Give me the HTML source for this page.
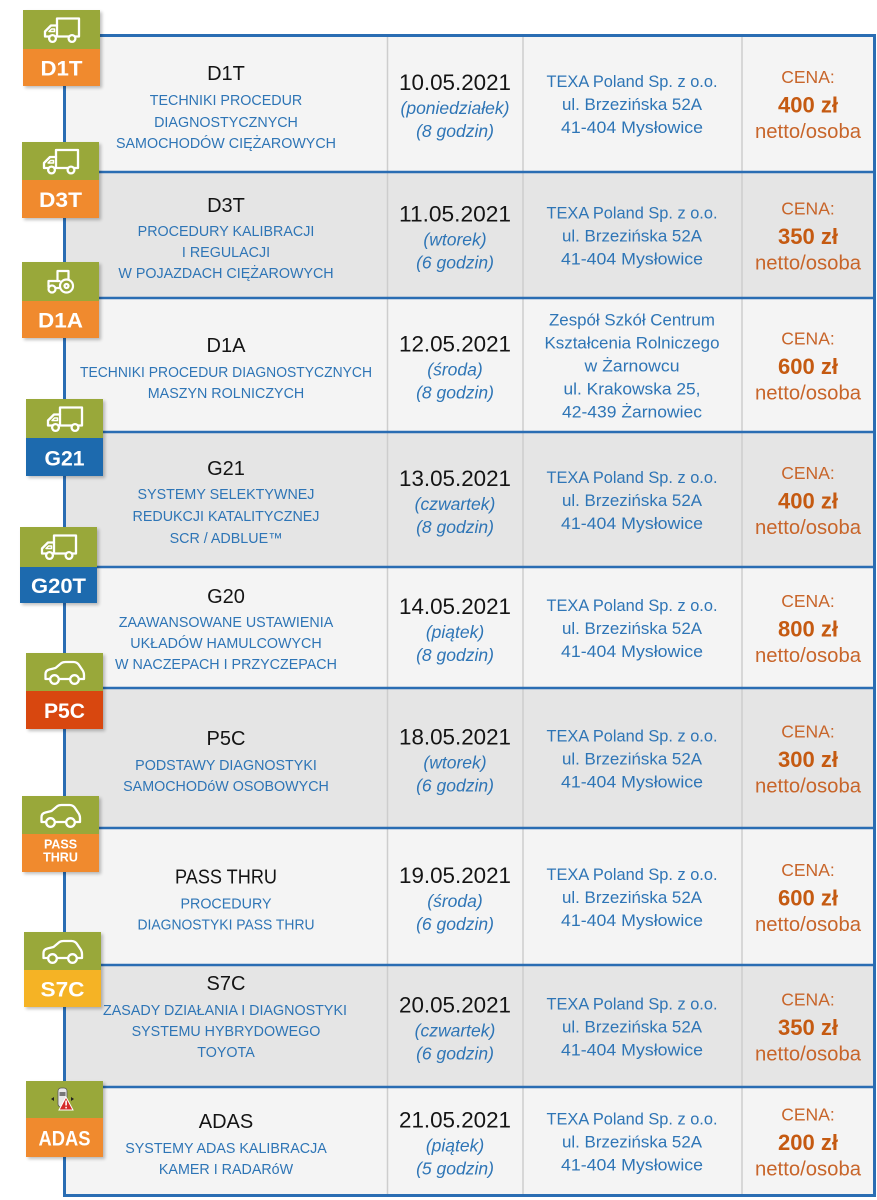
<!DOCTYPE html>
<html>
<head>
<meta charset="utf-8">
<style>
  html,body{margin:0;padding:0;background:#fff;}
  svg{display:block;}
  .t{font-family:"Liberation Sans",Arial,sans-serif;font-size:20px;fill:#141414;text-anchor:middle;}
  .s{font-family:"Liberation Sans",Arial,sans-serif;font-size:14.3px;fill:#2e75b6;text-anchor:middle;}
  .d{font-family:"Liberation Sans",Arial,sans-serif;font-size:22px;fill:#141414;text-anchor:middle;}
  .i{font-family:"Liberation Sans",Arial,sans-serif;font-size:17.5px;font-style:italic;fill:#2e75b6;text-anchor:middle;}
  .a{font-family:"Liberation Sans",Arial,sans-serif;font-size:17px;fill:#2e75b6;text-anchor:middle;}
  .c{font-family:"Liberation Sans",Arial,sans-serif;font-size:17.5px;fill:#c8652a;text-anchor:middle;}
  .p{font-family:"Liberation Sans",Arial,sans-serif;font-size:22px;font-weight:bold;fill:#c55a11;text-anchor:middle;}
  .n{font-family:"Liberation Sans",Arial,sans-serif;font-size:20px;fill:#c8652a;text-anchor:middle;}
  .b{font-family:"Liberation Sans",Arial,sans-serif;font-size:21.5px;font-weight:bold;fill:#fff;text-anchor:middle;}
  .bs{font-family:"Liberation Sans",Arial,sans-serif;font-size:12.5px;font-weight:bold;fill:#fff;text-anchor:middle;}
</style>
</head>
<body>
<svg width="877" height="1200" viewBox="0 0 877 1200" xmlns="http://www.w3.org/2000/svg">
<defs>
  <filter id="sh" x="-20%" y="-20%" width="140%" height="140%">
    <feGaussianBlur stdDeviation="1.5"/>
  </filter>
  <g id="truck" fill="none" stroke="#fff" stroke-width="2.3" stroke-linejoin="round" stroke-linecap="round">
    <path d="M-4.5 -11.5 H17.5 V6.5 H-4.5 Z"/>
    <path d="M-4.5 -4.5 H-10.5 L-16.5 1.5 V6.5 H-4.5"/>
    <path d="M-10 -1 L-12.5 1.5 H-7 V-1 Z" stroke-width="1.5"/>
    <circle cx="-9" cy="8.5" r="3.4" fill="#99a83a"/>
    <circle cx="10.5" cy="8.5" r="3.4" fill="#99a83a"/>
  </g>
  <g id="car" fill="none" stroke="#fff" stroke-width="2.3" stroke-linejoin="round" stroke-linecap="round">
    <path d="M-19 6 V1 Q-19 -2.5 -15 -3.5 L-9 -5 L-3 -10 Q-1.5 -11 1 -11 H9 Q12.5 -11 14.5 -8 L18.5 -2 Q19.5 0 19.5 2 V6 Z"/>
    <circle cx="-10" cy="6.5" r="4.3" fill="#99a83a"/>
    <circle cx="10" cy="6.5" r="4.3" fill="#99a83a"/>
  </g>
  <g id="tractor" fill="none" stroke="#fff" stroke-width="2.2" stroke-linejoin="round" stroke-linecap="round">
    <path d="M-3 -1 V-11 H8 V-3"/>
    <path d="M-12 5 V-1 H-1"/>
    <path d="M-4.5 6 H-1"/>
    <circle cx="6" cy="4" r="6.5" fill="#99a83a"/>
    <circle cx="6" cy="4" r="2"/>
    <circle cx="-8.5" cy="7" r="3.5" fill="#99a83a"/>
  </g>
</defs>

<rect x="0" y="0" width="877" height="1200" fill="#ffffff"/>

<!-- row backgrounds -->
<rect x="66" y="37" width="807" height="135" fill="#f4f4f4"/>
<rect x="66" y="172" width="807" height="126" fill="#e5e5e5"/>
<rect x="66" y="298" width="807" height="134" fill="#f4f4f4"/>
<rect x="66" y="432" width="807" height="135" fill="#e5e5e5"/>
<rect x="66" y="567" width="807" height="121" fill="#f4f4f4"/>
<rect x="66" y="688" width="807" height="140" fill="#e5e5e5"/>
<rect x="66" y="828" width="807" height="137" fill="#f4f4f4"/>
<rect x="66" y="965" width="807" height="122" fill="#e5e5e5"/>
<rect x="66" y="1087" width="807" height="107" fill="#f4f4f4"/>

<!-- column separators -->
<g stroke="#cdcdcd" stroke-width="1.5">
  <line x1="387.5" y1="37" x2="387.5" y2="1194"/>
  <line x1="523" y1="37" x2="523" y2="1194"/>
  <line x1="742" y1="37" x2="742" y2="1194"/>
</g>

<!-- row separators -->
<g stroke="#2a6db3" stroke-width="2.5">
  <line x1="64" y1="172" x2="875" y2="172"/>
  <line x1="64" y1="298" x2="875" y2="298"/>
  <line x1="64" y1="432" x2="875" y2="432"/>
  <line x1="64" y1="567" x2="875" y2="567"/>
  <line x1="64" y1="688" x2="875" y2="688"/>
  <line x1="64" y1="828" x2="875" y2="828"/>
  <line x1="64" y1="965" x2="875" y2="965"/>
  <line x1="64" y1="1087" x2="875" y2="1087"/>
</g>

<!-- outer border -->
<rect x="64.5" y="35.5" width="810" height="1160" fill="none" stroke="#2a6db3" stroke-width="3"/>

<!-- badges -->
<!-- D1T -->
<rect x="25" y="12" width="77" height="76" fill="#000" opacity="0.25" filter="url(#sh)"/>
<rect x="23" y="10" width="77" height="39" fill="#99a83a"/>
<rect x="23" y="49" width="77" height="37" fill="#f08a2e"/>
<use href="#truck" x="61.5" y="30"/>
<text class="b" x="61.5" y="75.5" textLength="42" lengthAdjust="spacingAndGlyphs">D1T</text>

<!-- D3T -->
<rect x="24" y="144" width="77" height="76" fill="#000" opacity="0.25" filter="url(#sh)"/>
<rect x="22" y="142" width="77" height="38" fill="#99a83a"/>
<rect x="22" y="180" width="77" height="38" fill="#f08a2e"/>
<use href="#truck" x="60.5" y="161.5"/>
<text class="b" x="60.5" y="207" textLength="43" lengthAdjust="spacingAndGlyphs">D3T</text>

<!-- D1A -->
<rect x="24" y="264" width="77" height="76" fill="#000" opacity="0.25" filter="url(#sh)"/>
<rect x="22" y="262" width="77" height="39" fill="#99a83a"/>
<rect x="22" y="301" width="77" height="37" fill="#f08a2e"/>
<use href="#tractor" x="60.5" y="282"/>
<text class="b" x="60.5" y="327.5" textLength="45" lengthAdjust="spacingAndGlyphs">D1A</text>

<!-- G21 -->
<rect x="28" y="401" width="77" height="77" fill="#000" opacity="0.25" filter="url(#sh)"/>
<rect x="26" y="399" width="77" height="39" fill="#99a83a"/>
<rect x="26" y="438" width="77" height="38" fill="#1d6aae"/>
<use href="#truck" x="64.5" y="419"/>
<text class="b" x="64.5" y="465.5" textLength="40" lengthAdjust="spacingAndGlyphs">G21</text>

<!-- G20T -->
<rect x="22" y="529" width="77" height="76" fill="#000" opacity="0.25" filter="url(#sh)"/>
<rect x="20" y="527" width="77" height="40" fill="#99a83a"/>
<rect x="20" y="567" width="77" height="36" fill="#1d6aae"/>
<use href="#truck" x="58.5" y="547"/>
<text class="b" x="58.5" y="593" textLength="55" lengthAdjust="spacingAndGlyphs">G20T</text>

<!-- P5C -->
<rect x="28" y="655" width="77" height="76" fill="#000" opacity="0.25" filter="url(#sh)"/>
<rect x="26" y="653" width="77" height="38" fill="#99a83a"/>
<rect x="26" y="691" width="77" height="38" fill="#d8470f"/>
<use href="#car" x="64.5" y="673"/>
<text class="b" x="64.5" y="718" textLength="41" lengthAdjust="spacingAndGlyphs">P5C</text>

<!-- PASS THRU -->
<rect x="24" y="798" width="77" height="76" fill="#000" opacity="0.25" filter="url(#sh)"/>
<rect x="22" y="796" width="77" height="38" fill="#99a83a"/>
<rect x="22" y="834" width="77" height="38" fill="#f08a2e"/>
<use href="#car" x="60.5" y="816"/>
<text class="bs" x="60.5" y="848.5">PASS</text>
<text class="bs" x="60.5" y="861.5">THRU</text>

<!-- S7C -->
<rect x="26" y="934" width="77" height="75" fill="#000" opacity="0.25" filter="url(#sh)"/>
<rect x="24" y="932" width="77" height="38" fill="#99a83a"/>
<rect x="24" y="970" width="77" height="37" fill="#f5b325"/>
<use href="#car" x="62.5" y="952"/>
<text class="b" x="62.5" y="996.5" textLength="44" lengthAdjust="spacingAndGlyphs">S7C</text>

<!-- ADAS -->
<rect x="28" y="1083" width="77" height="76" fill="#000" opacity="0.25" filter="url(#sh)"/>
<rect x="26" y="1081" width="77" height="37" fill="#99a83a"/>
<rect x="26" y="1118" width="77" height="39" fill="#f08a2e"/>
<g transform="translate(63,1100)">
  <rect x="-5" y="-12" width="9" height="19" rx="3" fill="#e8e8e8" stroke="#555" stroke-width="0.8"/>
  <rect x="-3.5" y="-8" width="6" height="4" fill="#777"/>
  <polygon points="-12,-1 -9,-3 -9,1" fill="#222"/>
  <polygon points="11,-1 8,-3 8,1" fill="#222"/>
  <polygon points="3,-3 10,10 -4,10" fill="#d42a2a" stroke="#fff" stroke-width="1"/>
  <rect x="2.3" y="0.5" width="1.6" height="5" fill="#fff"/>
  <rect x="2.3" y="6.8" width="1.6" height="1.6" fill="#fff"/>
</g>
<text class="b" x="64.5" y="1145.5" textLength="52" lengthAdjust="spacingAndGlyphs">ADAS</text>

<!-- ===== Row 1 ===== -->
<text class="t" x="226" y="80">D1T</text>
<text class="s" x="226" y="105">TECHNIKI PROCEDUR</text>
<text class="s" x="226" y="127">DIAGNOSTYCZNYCH</text>
<text class="s" x="226" y="148">SAMOCHODÓW CIĘŻAROWYCH</text>
<text class="d" x="455" y="90" textLength="112" lengthAdjust="spacingAndGlyphs">10.05.2021</text>
<text class="i" x="455" y="114">(poniedziałek)</text>
<text class="i" x="455" y="137">(8 godzin)</text>
<text class="a" x="632" y="87" textLength="171" lengthAdjust="spacingAndGlyphs">TEXA Poland Sp. z o.o.</text>
<text class="a" x="632" y="110" textLength="140" lengthAdjust="spacingAndGlyphs">ul. Brzezińska 52A</text>
<text class="a" x="632" y="133" textLength="142" lengthAdjust="spacingAndGlyphs">41-404 Mysłowice</text>
<text class="c" x="808" y="83">CENA:</text>
<text class="p" x="808" y="112.5">400 zł</text>
<text class="n" x="808" y="138" textLength="106" lengthAdjust="spacingAndGlyphs">netto/osoba</text>

<!-- ===== Row 2 ===== -->
<text class="t" x="226" y="212">D3T</text>
<text class="s" x="226" y="236">PROCEDURY KALIBRACJI</text>
<text class="s" x="226" y="257">I REGULACJI</text>
<text class="s" x="226" y="278">W POJAZDACH CIĘŻAROWYCH</text>
<text class="d" x="455" y="221.5" textLength="112" lengthAdjust="spacingAndGlyphs">11.05.2021</text>
<text class="i" x="455" y="245.5">(wtorek)</text>
<text class="i" x="455" y="268.5">(6 godzin)</text>
<text class="a" x="632" y="218.5" textLength="171" lengthAdjust="spacingAndGlyphs">TEXA Poland Sp. z o.o.</text>
<text class="a" x="632" y="241.5" textLength="140" lengthAdjust="spacingAndGlyphs">ul. Brzezińska 52A</text>
<text class="a" x="632" y="264.5" textLength="142" lengthAdjust="spacingAndGlyphs">41-404 Mysłowice</text>
<text class="c" x="808" y="214.5">CENA:</text>
<text class="p" x="808" y="244">350 zł</text>
<text class="n" x="808" y="269.5" textLength="106" lengthAdjust="spacingAndGlyphs">netto/osoba</text>

<!-- ===== Row 3 ===== -->
<text class="t" x="226" y="352">D1A</text>
<text class="s" x="226" y="377" textLength="292" lengthAdjust="spacingAndGlyphs">TECHNIKI PROCEDUR DIAGNOSTYCZNYCH</text>
<text class="s" x="226" y="398">MASZYN ROLNICZYCH</text>
<text class="d" x="455" y="351.5" textLength="112" lengthAdjust="spacingAndGlyphs">12.05.2021</text>
<text class="i" x="455" y="375.5">(środa)</text>
<text class="i" x="455" y="398.5">(8 godzin)</text>
<text class="a" x="632" y="325.5" textLength="166" lengthAdjust="spacingAndGlyphs">Zespół Szkół Centrum</text>
<text class="a" x="632" y="348.5" textLength="175" lengthAdjust="spacingAndGlyphs">Kształcenia Rolniczego</text>
<text class="a" x="632" y="371.5" textLength="95" lengthAdjust="spacingAndGlyphs">w Żarnowcu</text>
<text class="a" x="632" y="394.5" textLength="137" lengthAdjust="spacingAndGlyphs">ul. Krakowska 25,</text>
<text class="a" x="632" y="417.5" textLength="140" lengthAdjust="spacingAndGlyphs">42-439 Żarnowiec</text>
<text class="c" x="808" y="344.5">CENA:</text>
<text class="p" x="808" y="374">600 zł</text>
<text class="n" x="808" y="399.5" textLength="106" lengthAdjust="spacingAndGlyphs">netto/osoba</text>

<!-- ===== Row 4 ===== -->
<text class="t" x="226" y="475">G21</text>
<text class="s" x="226" y="499">SYSTEMY SELEKTYWNEJ</text>
<text class="s" x="226" y="521">REDUKCJI KATALITYCZNEJ</text>
<text class="s" x="226" y="543">SCR / ADBLUE™</text>
<text class="d" x="455" y="486" textLength="112" lengthAdjust="spacingAndGlyphs">13.05.2021</text>
<text class="i" x="455" y="510">(czwartek)</text>
<text class="i" x="455" y="533">(8 godzin)</text>
<text class="a" x="632" y="483" textLength="171" lengthAdjust="spacingAndGlyphs">TEXA Poland Sp. z o.o.</text>
<text class="a" x="632" y="506" textLength="140" lengthAdjust="spacingAndGlyphs">ul. Brzezińska 52A</text>
<text class="a" x="632" y="529" textLength="142" lengthAdjust="spacingAndGlyphs">41-404 Mysłowice</text>
<text class="c" x="808" y="479">CENA:</text>
<text class="p" x="808" y="508.5">400 zł</text>
<text class="n" x="808" y="534" textLength="106" lengthAdjust="spacingAndGlyphs">netto/osoba</text>

<!-- ===== Row 5 ===== -->
<text class="t" x="226" y="603">G20</text>
<text class="s" x="226" y="627">ZAAWANSOWANE USTAWIENIA</text>
<text class="s" x="226" y="648">UKŁADÓW HAMULCOWYCH</text>
<text class="s" x="226" y="669">W NACZEPACH I PRZYCZEPACH</text>
<text class="d" x="455" y="614" textLength="112" lengthAdjust="spacingAndGlyphs">14.05.2021</text>
<text class="i" x="455" y="638">(piątek)</text>
<text class="i" x="455" y="661">(8 godzin)</text>
<text class="a" x="632" y="611" textLength="171" lengthAdjust="spacingAndGlyphs">TEXA Poland Sp. z o.o.</text>
<text class="a" x="632" y="634" textLength="140" lengthAdjust="spacingAndGlyphs">ul. Brzezińska 52A</text>
<text class="a" x="632" y="657" textLength="142" lengthAdjust="spacingAndGlyphs">41-404 Mysłowice</text>
<text class="c" x="808" y="607">CENA:</text>
<text class="p" x="808" y="636.5">800 zł</text>
<text class="n" x="808" y="662" textLength="106" lengthAdjust="spacingAndGlyphs">netto/osoba</text>

<!-- ===== Row 6 ===== -->
<text class="t" x="226" y="745">P5C</text>
<text class="s" x="226" y="770">PODSTAWY DIAGNOSTYKI</text>
<text class="s" x="226" y="791">SAMOCHODóW OSOBOWYCH</text>
<text class="d" x="455" y="744.5" textLength="112" lengthAdjust="spacingAndGlyphs">18.05.2021</text>
<text class="i" x="455" y="768.5">(wtorek)</text>
<text class="i" x="455" y="791.5">(6 godzin)</text>
<text class="a" x="632" y="741.5" textLength="171" lengthAdjust="spacingAndGlyphs">TEXA Poland Sp. z o.o.</text>
<text class="a" x="632" y="764.5" textLength="140" lengthAdjust="spacingAndGlyphs">ul. Brzezińska 52A</text>
<text class="a" x="632" y="787.5" textLength="142" lengthAdjust="spacingAndGlyphs">41-404 Mysłowice</text>
<text class="c" x="808" y="737.5">CENA:</text>
<text class="p" x="808" y="767">300 zł</text>
<text class="n" x="808" y="792.5" textLength="106" lengthAdjust="spacingAndGlyphs">netto/osoba</text>

<!-- ===== Row 7 ===== -->
<text class="t" x="226" y="883.5" textLength="102" lengthAdjust="spacingAndGlyphs">PASS THRU</text>
<text class="s" x="226" y="908.5">PROCEDURY</text>
<text class="s" x="226" y="929.5" textLength="177" lengthAdjust="spacingAndGlyphs">DIAGNOSTYKI PASS THRU</text>
<text class="d" x="455" y="883" textLength="112" lengthAdjust="spacingAndGlyphs">19.05.2021</text>
<text class="i" x="455" y="907">(środa)</text>
<text class="i" x="455" y="930">(6 godzin)</text>
<text class="a" x="632" y="880" textLength="171" lengthAdjust="spacingAndGlyphs">TEXA Poland Sp. z o.o.</text>
<text class="a" x="632" y="903" textLength="140" lengthAdjust="spacingAndGlyphs">ul. Brzezińska 52A</text>
<text class="a" x="632" y="926" textLength="142" lengthAdjust="spacingAndGlyphs">41-404 Mysłowice</text>
<text class="c" x="808" y="876">CENA:</text>
<text class="p" x="808" y="905.5">600 zł</text>
<text class="n" x="808" y="931" textLength="106" lengthAdjust="spacingAndGlyphs">netto/osoba</text>

<!-- ===== Row 8 ===== -->
<text class="t" x="226" y="990">S7C</text>
<text class="s" x="225" y="1015" textLength="244" lengthAdjust="spacingAndGlyphs">ZASADY DZIAŁANIA I DIAGNOSTYKI</text>
<text class="s" x="226" y="1036">SYSTEMU HYBRYDOWEGO</text>
<text class="s" x="226" y="1057">TOYOTA</text>
<text class="d" x="455" y="1012.5" textLength="112" lengthAdjust="spacingAndGlyphs">20.05.2021</text>
<text class="i" x="455" y="1036.5">(czwartek)</text>
<text class="i" x="455" y="1059.5">(6 godzin)</text>
<text class="a" x="632" y="1009.5" textLength="171" lengthAdjust="spacingAndGlyphs">TEXA Poland Sp. z o.o.</text>
<text class="a" x="632" y="1032.5" textLength="140" lengthAdjust="spacingAndGlyphs">ul. Brzezińska 52A</text>
<text class="a" x="632" y="1055.5" textLength="142" lengthAdjust="spacingAndGlyphs">41-404 Mysłowice</text>
<text class="c" x="808" y="1005.5">CENA:</text>
<text class="p" x="808" y="1035">350 zł</text>
<text class="n" x="808" y="1060.5" textLength="106" lengthAdjust="spacingAndGlyphs">netto/osoba</text>

<!-- ===== Row 9 ===== -->
<text class="t" x="226" y="1128">ADAS</text>
<text class="s" x="226" y="1153">SYSTEMY ADAS KALIBRACJA</text>
<text class="s" x="226" y="1174">KAMER I RADARóW</text>
<text class="d" x="455" y="1127.5" textLength="112" lengthAdjust="spacingAndGlyphs">21.05.2021</text>
<text class="i" x="455" y="1151.5">(piątek)</text>
<text class="i" x="455" y="1174.5">(5 godzin)</text>
<text class="a" x="632" y="1124.5" textLength="171" lengthAdjust="spacingAndGlyphs">TEXA Poland Sp. z o.o.</text>
<text class="a" x="632" y="1147.5" textLength="140" lengthAdjust="spacingAndGlyphs">ul. Brzezińska 52A</text>
<text class="a" x="632" y="1170.5" textLength="142" lengthAdjust="spacingAndGlyphs">41-404 Mysłowice</text>
<text class="c" x="808" y="1120.5">CENA:</text>
<text class="p" x="808" y="1150">200 zł</text>
<text class="n" x="808" y="1175.5" textLength="106" lengthAdjust="spacingAndGlyphs">netto/osoba</text>
</svg>
</body>
</html>
